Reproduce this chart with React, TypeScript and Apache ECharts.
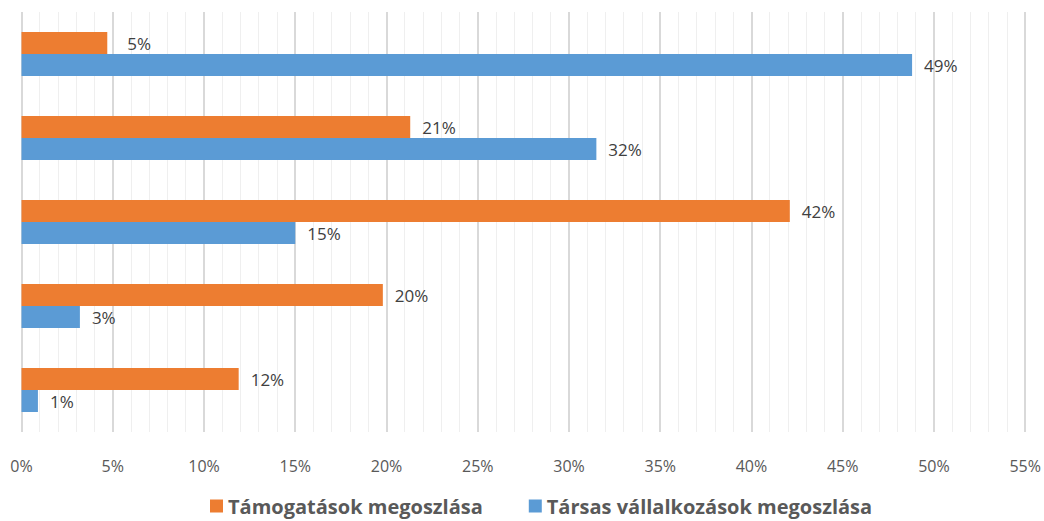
import React, { useEffect, useRef } from "react";
import * as echarts from "echarts";

const categories = ["Cat 5", "Cat 4", "Cat 3", "Cat 2", "Cat 1"]; // bottom to top
const tamogatasok = [11.9, 19.8, 42.1, 21.3, 4.7];
const tarsas = [0.9, 3.2, 15.0, 31.5, 48.8];
const seriesNames = ["Támogatások megoszlása", "Társas vállalkozások megoszlása"];
const colors = ["#ED7D31", "#5B9BD5"];

const FONT = "'Open Sans', 'Noto Sans', sans-serif";

export default function App() {
  const ref = useRef<HTMLDivElement>(null);
  useEffect(() => {
    if (!ref.current) return;
    const chart = echarts.init(ref.current, undefined, { renderer: "svg" });
    const labelFmt = (p: any) => Math.round(p.value) + "%";
    const label = {
      show: true,
      position: "right",
      distance: 12,
      formatter: labelFmt,
      color: "#404040",
      fontSize: 17,
      fontFamily: FONT,
    };
    chart.setOption({
      animation: false,
      backgroundColor: "#ffffff",
      grid: { left: 21.5, right: 17, top: 12, bottom: 89, containLabel: false },
      legend: {
        bottom: 0,
        left: 205,
        data: seriesNames,
        icon: "rect",
        itemWidth: 13,
        itemHeight: 13,
        itemGap: 46,
        textStyle: { fontSize: 20, fontWeight: "bold", color: "#595959", fontFamily: FONT },
      },
      xAxis: {
        type: "value",
        min: 0,
        max: 55,
        interval: 5,
        axisLine: { show: false },
        axisTick: { show: false },
        axisLabel: {
          formatter: "{value}%",
          color: "#595959",
          fontSize: 16,
          fontFamily: FONT,
          margin: 26,
        },
        splitLine: { show: true, lineStyle: { color: "#d9d9d9", width: 2 } },
        minorTick: { show: false, splitNumber: 5 },
        minorSplitLine: { show: true, lineStyle: { color: "#efefef", width: 1 } },
      },
      yAxis: {
        type: "category",
        data: categories,
        axisLine: { show: false },
        axisTick: { show: false },
        axisLabel: { show: false },
      },
      series: [
        {
          name: seriesNames[0],
          type: "bar",
          data: tamogatasok.map((v, i) =>
            i === 4 ? { value: v, label: { distance: 20 } } : v
          ),
          barWidth: 22,
          barGap: "0%",
          itemStyle: { color: colors[0] },
          label,
        },
        {
          name: seriesNames[1],
          type: "bar",
          data: tarsas,
          barWidth: 22,
          barGap: "0%",
          itemStyle: { color: colors[1] },
          label,
        },
      ],
    });
    return () => chart.dispose();
  }, []);
  return (
    <div
      ref={ref}
      style={{ position: "fixed", left: 0, top: 0, width: 1044, height: 521 }}
    />
  );
}
